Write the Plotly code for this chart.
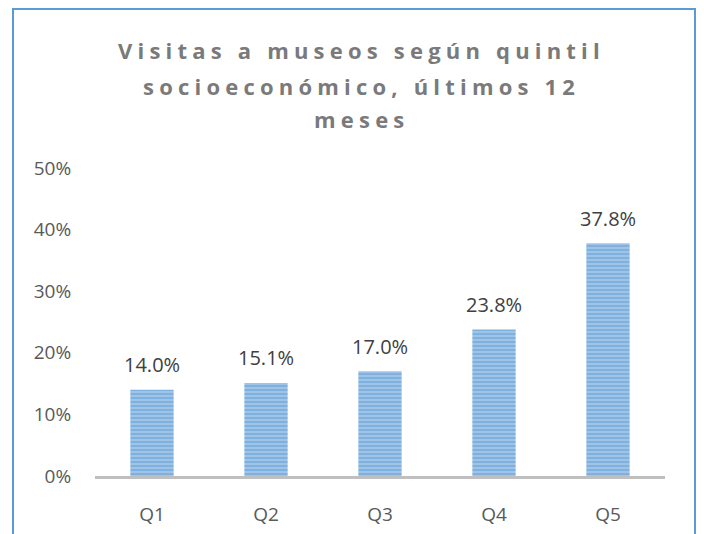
import plotly.graph_objects as go

categories = ["Q1", "Q2", "Q3", "Q4", "Q5"]
values = [0.140, 0.151, 0.170, 0.238, 0.378]
labels = ["14.0%", "15.1%", "17.0%", "23.8%", "37.8%"]
title_lines = ["Visitas a museos según quintil", "socioeconómico, últimos 12", "meses"]
y_ticks = [0, 0.1, 0.2, 0.3, 0.4, 0.5]
y_tick_labels = ["0%", "10%", "20%", "30%", "40%", "50%"]

FONT = "Open Sans"
OFF = 8  # page body margin offset

# plot area in figure pixel coords
PL, PR, PT, PB = 95 - OFF, 665 - OFF, 168 - OFF, 476 - OFF

def px(x):
    return (x - OFF - PL) / (PR - PL)

def py(y):
    return (PB - (y - OFF)) / (PB - PT)

fig = go.Figure()
fig.add_trace(go.Bar(
    x=categories, y=values, width=0.38,
    marker=dict(
        color="#a3c6e8",
        line=dict(width=0),
        pattern=dict(shape="-", fgcolor="#5b9bd5", size=4, solidity=0.55, fillmode="overlay"),
    ),
    hoverinfo="skip",
))

for c, v, t in zip(categories, values, labels):
    fig.add_annotation(x=c, y=v, text=t, showarrow=False, yshift=25,
                       font=dict(family=FONT, size=20, color="#404040"))

title_y = [50, 86, 119]
for line, yy in zip(title_lines, title_y):
    fig.add_annotation(
        xref="paper", yref="paper",
        x=px(361), y=py(yy),
        text='<span style="letter-spacing:5.2px">' + line + '</span>',
        showarrow=False, xanchor="center", yanchor="middle",
        font=dict(family=FONT, size=22, color="#7a7a7a", weight="bold"),
    )

fig.add_shape(type="rect", xref="paper", yref="paper",
              x0=px(13), x1=px(695), y0=py(580), y1=py(9),
              line=dict(color="#5b9bd5", width=2), fillcolor="rgba(0,0,0,0)", layer="below")

fig.update_layout(
    width=704, height=534,
    margin=dict(l=PL, r=704 - PR, t=PT, b=534 - PB),
    paper_bgcolor="white", plot_bgcolor="white",
    showlegend=False,
    font=dict(family=FONT, size=19, color="#595959"),
    xaxis=dict(showline=True, linecolor="#bfbfbf", linewidth=3, showgrid=False,
               ticks="outside", ticklen=19, tickcolor="rgba(0,0,0,0)",
               tickfont=dict(family=FONT, size=19, color="#595959")),
    yaxis=dict(range=[0, 0.5], tickvals=y_ticks, ticktext=y_tick_labels,
               showgrid=False, zeroline=False, showline=False,
               ticks="outside", ticklen=19, tickcolor="rgba(0,0,0,0)",
               tickfont=dict(family=FONT, size=19, color="#595959")),
)

fig.write_html("out.html")
